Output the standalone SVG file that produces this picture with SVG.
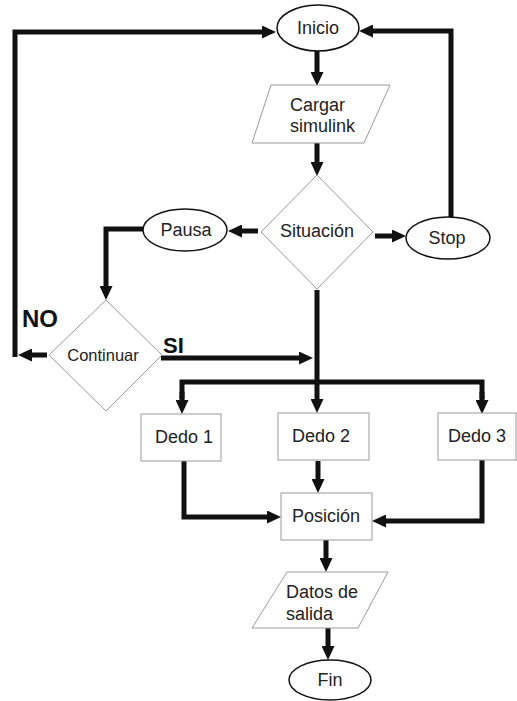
<svg xmlns="http://www.w3.org/2000/svg" width="517" height="701" viewBox="0 0 517 701">
<defs>
<marker id="ah" markerUnits="userSpaceOnUse" markerWidth="14" markerHeight="13" refX="0" refY="6.5" orient="auto">
<path d="M0,0 L14,6.5 L0,13 z" fill="#111"/>
</marker>
<style>
.t{font-family:"Liberation Sans",Arial,sans-serif;font-size:18px;fill:#222;text-anchor:middle}
.tl{font-family:"Liberation Sans",Arial,sans-serif;font-size:18px;fill:#222;text-anchor:start}
.b{font-family:"Liberation Sans",Arial,sans-serif;font-weight:bold;fill:#111}
.el{fill:#fff;stroke:#111;stroke-width:1.5}
.gs{fill:#fff;stroke:#9a9a9a;stroke-width:1}
.c{fill:none;stroke:#111;stroke-width:5}
.a{marker-end:url(#ah)}
</style>
</defs>
<rect width="517" height="701" fill="#fff"/>
<g id="connectors">
<line class="c a" x1="317" y1="51" x2="317" y2="72"/>
<line class="c a" x1="317" y1="143" x2="317" y2="162"/>
<line class="c a" x1="258" y1="231" x2="242" y2="231"/>
<line class="c a" x1="375" y1="236" x2="392" y2="236"/>
<polyline class="c a" points="451,217 451,31 373,31"/>
<line class="c a" x1="47" y1="355" x2="32" y2="355"/>
<polyline class="c a" points="15,357 15,32 262,32"/>
<polyline class="c a" points="143,229 106,229 106,286"/>
<line class="c a" x1="161" y1="358" x2="299" y2="358"/>
<line class="c a" x1="317" y1="290" x2="317" y2="399"/>
<polyline class="c" points="182,399 182,382 482,382 482,399"/>
<line class="c a" x1="182" y1="392" x2="182" y2="400"/>
<line class="c a" x1="482" y1="392" x2="482" y2="400"/>
<line class="c a" x1="318" y1="461" x2="318" y2="479"/>
<polyline class="c a" points="184,461 184,517 267,517"/>
<polyline class="c a" points="482,460 482,521 386,521"/>
<line class="c a" x1="326" y1="540" x2="326" y2="558"/>
<line class="c a" x1="328" y1="628" x2="328" y2="646"/>
</g>
<g id="inicio"><ellipse class="el" cx="318" cy="28" rx="41" ry="23"/><text class="t" x="318" y="34">Inicio</text></g>
<g id="cargar"><polygon class="gs" points="271,85 390,85 364,143 252,143"/><text class="tl" x="290" y="111">Cargar</text><text class="tl" x="290" y="132">simulink</text></g>
<g id="situacion"><polygon class="gs" points="317,175 373,232 317,289 261,232"/><text class="t" x="317" y="237">Situación</text></g>
<g id="pausa"><ellipse class="el" cx="185" cy="230" rx="42" ry="21"/><text class="t" x="186" y="236">Pausa</text></g>
<g id="stop"><ellipse class="el" cx="448" cy="238" rx="42" ry="21"/><text class="t" x="447" y="244">Stop</text></g>
<g id="continuar"><polygon class="gs" points="106,300 162,355 106,411 49,355"/><text class="t" x="103" y="361" style="font-size:16.5px">Continuar</text></g>
<g id="no"><text class="b" x="22" y="327" style="font-size:24px">NO</text></g>
<g id="si"><text class="b" x="163" y="353" style="font-size:22px">SI</text></g>
<g id="dedo1"><rect class="gs" x="141" y="414" width="80" height="47"/><text class="t" x="184" y="443">Dedo 1</text></g>
<g id="dedo2"><rect class="gs" x="278" y="413" width="91" height="47"/><text class="t" x="321" y="442">Dedo 2</text></g>
<g id="dedo3"><rect class="gs" x="438" y="413" width="78" height="47"/><text class="t" x="477" y="442">Dedo 3</text></g>
<g id="posicion"><rect class="gs" x="281" y="493" width="91" height="47"/><text class="t" x="326" y="522">Posición</text></g>
<g id="datos"><polygon class="gs" points="287,572 388,572 358,628 252,628"/><text class="tl" x="286" y="598">Datos de</text><text class="tl" x="286" y="620">salida</text></g>
<g id="fin"><ellipse class="el" cx="330" cy="680" rx="41" ry="20"/><text class="t" x="330" y="686">Fin</text></g>
</svg>
